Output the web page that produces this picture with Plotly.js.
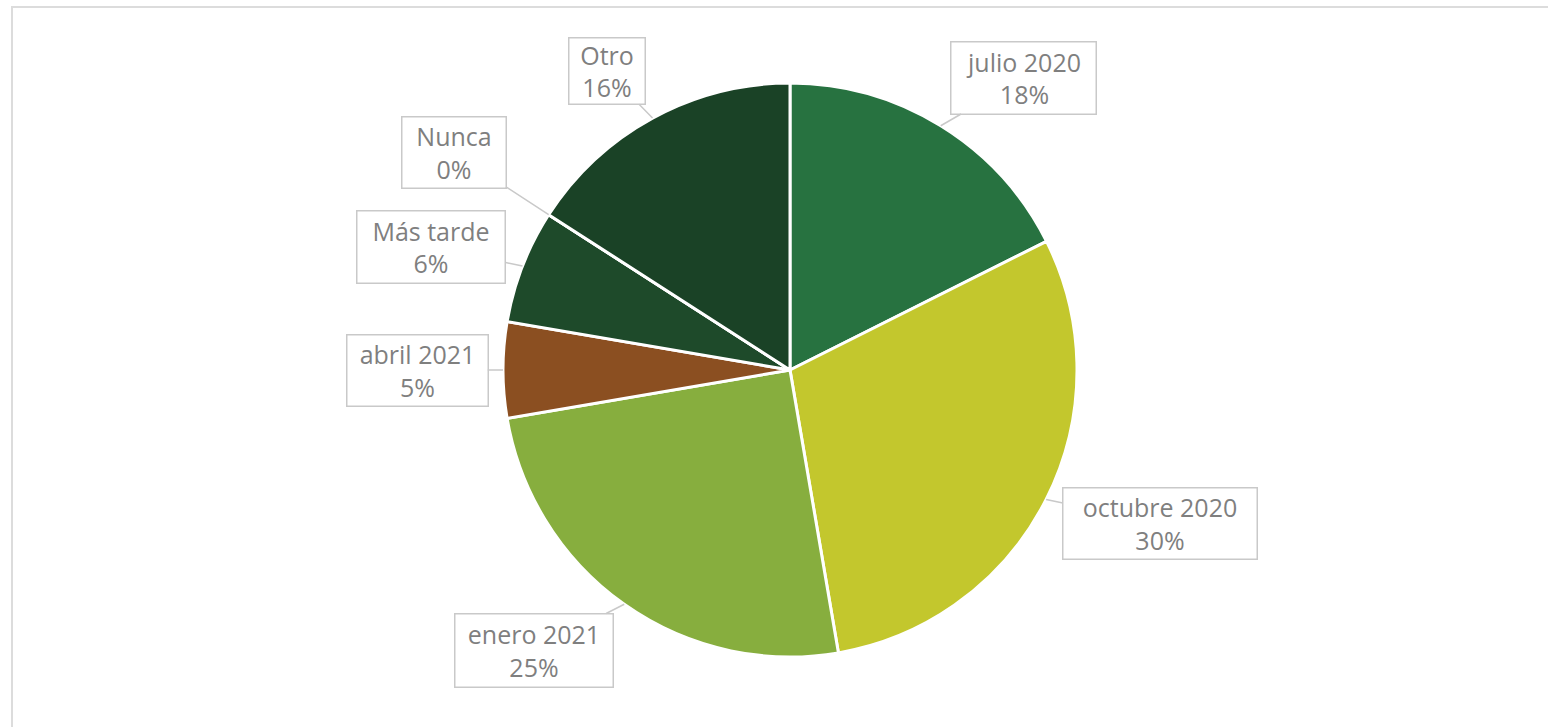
<!DOCTYPE html>
<html>
<head>
<meta charset="utf-8">
<script src="https://cdn.plot.ly/plotly-3.0.1.min.js"></script>
<style>
  html, body { margin: 0; padding: 0; background: #ffffff; overflow: hidden; }
  #frame { position: absolute; left: 11px; top: 6px; width: 1600px; height: 800px; border: 2px solid #dcdcdc; box-sizing: border-box; }
  #chart { position: absolute; left: 0; top: 0; width: 1548px; height: 727px; }
</style>
</head>
<body>
<div id="frame"></div>
<div id="chart"></div>
<script>
// Data
const categories = ["julio 2020", "octubre 2020", "enero 2021", "abril 2021", "Más tarde", "Nunca", "Otro"];
const values = [17.6, 29.7, 25.0, 5.4, 6.4, 0, 15.9];
const colors = ["#277240", "#C3C72D", "#87AE3E", "#8B4F21", "#1E4A2A", "#1C4527", "#1A4226"];

// Label box layout (pixels): offset from slice edge point to box centre, and box size
const labelOffsets = [[83, -48], [114, 24], [-90, 46], [-86, 0], [-91, -19], [-95, -62], [-46, -47]];
const labelSizes = [[146, 73], [195, 72], [159, 74], [142, 72], [149, 73], [105, 72], [77, 67]];

const W = 1548, H = 727;
const margin = { l: 32, r: 0, t: 83, b: 70 };
const plotW = W - margin.l - margin.r, plotH = H - margin.t - margin.b;
const R = Math.min(plotW, plotH) / 2;
const cx = margin.l + plotW / 2, cy = margin.t + plotH / 2;

const total = values.reduce((a, b) => a + b, 0);
let cum = 0;
const annotations = categories.map((c, i) => {
  const mid = (cum + values[i] / 2) / total * 2 * Math.PI;
  cum += values[i];
  const px = cx + R * Math.sin(mid);
  const py = cy - R * Math.cos(mid);
  const pct = Math.round(values[i] / total * 100);
  return {
    xref: 'paper', yref: 'paper',
    x: (px - margin.l) / plotW,
    y: (H - margin.b - py) / plotH,
    ax: labelOffsets[i][0], ay: labelOffsets[i][1],
    width: labelSizes[i][0] - 4, height: labelSizes[i][1] - 4,
    text: c + '<br>' + pct + '%',
    showarrow: true, arrowhead: 0, arrowwidth: 1.5, arrowcolor: '#c9c9c9', standoff: 0,
    bordercolor: '#c9c9c9', borderwidth: 1.5, borderpad: 1, bgcolor: '#ffffff',
    font: { family: 'Open Sans, sans-serif', size: 25, color: '#7f7f7f' },
    align: 'center', valign: 'middle'
  };
});

const trace = {
  type: 'pie',
  labels: categories,
  values: values,
  sort: false,
  direction: 'clockwise',
  rotation: 0,
  textinfo: 'none',
  hoverinfo: 'label+percent',
  marker: { colors: colors, line: { color: '#ffffff', width: 3 } },
  showlegend: false
};

Plotly.newPlot('chart', [trace], {
  width: W, height: H,
  margin: margin,
  paper_bgcolor: 'rgba(0,0,0,0)',
  plot_bgcolor: 'rgba(0,0,0,0)',
  showlegend: false,
  annotations: annotations
}, { displayModeBar: false, staticPlot: true });
</script>
</body>
</html>
